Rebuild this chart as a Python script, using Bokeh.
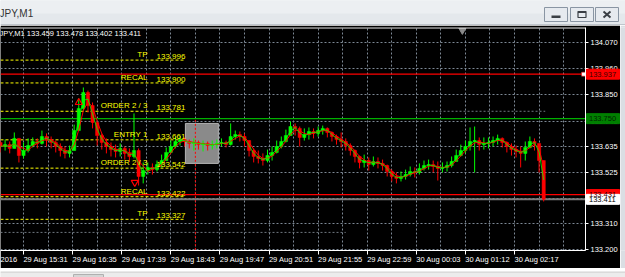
import numpy as np
import pandas as pd
from bokeh.plotting import figure
from bokeh.models import (Range1d, LinearAxis, FixedTicker, Grid, Label, Span,
                          PrintfTickFormatter)
from bokeh.layouts import column, row
from bokeh.core.properties import value
from bokeh.embed import file_html
from bokeh.resources import INLINE

# ---------------- data ----------------
symbol = "JPY,M1"
info_line = "JPY,M1  133.459 133.478 133.402 133.411"

# 6-minute candles, starting 29 Aug ~15:01 (bar index -30 relative to 15:31)
close = [133.633, 133.641, 133.625, 133.667, 133.595, 133.616, 133.637, 133.654, 133.646, 133.675,
         133.662, 133.650, 133.633, 133.616, 133.604, 133.616, 133.700, 133.793, 133.860, 133.805,
         133.734, 133.679, 133.650, 133.633, 133.620, 133.612, 133.625, 133.604, 133.591, 133.616,
         133.507, 133.532, 133.545, 133.536, 133.557, 133.574, 133.608, 133.633, 133.654, 133.662,
         133.654, 133.646, 133.650, 133.641, 133.646, 133.637, 133.641, 133.646, 133.650, 133.641,
         133.675, 133.683, 133.675, 133.658, 133.616, 133.591, 133.583, 133.574, 133.595, 133.608,
         133.633, 133.654, 133.679, 133.717, 133.709, 133.671, 133.683, 133.696, 133.688, 133.700,
         133.709, 133.692, 133.675, 133.662, 133.654, 133.637, 133.616, 133.591, 133.566, 133.574,
         133.557, 133.570, 133.562, 133.553, 133.528, 133.507, 133.499, 133.507, 133.515, 133.528,
         133.524, 133.541, 133.553, 133.557, 133.549, 133.541, 133.545, 133.553, 133.570, 133.595,
         133.616, 133.633, 133.654, 133.658, 133.641, 133.646, 133.650, 133.658, 133.667, 133.650,
         133.633, 133.620, 133.612, 133.604, 133.629, 133.654, 133.646, 133.574, 133.411]
high = [133.658, 133.662, 133.654, 133.692, 133.646, 133.650, 133.667, 133.671, 133.667, 133.700,
        133.688, 133.675, 133.658, 133.646, 133.633, 133.637, 133.725, 133.835, 133.881, 133.868,
        133.818, 133.721, 133.688, 133.667, 133.650, 133.641, 133.646, 133.633, 133.625, 133.772,
        133.625, 133.566, 133.566, 133.562, 133.574, 133.599, 133.629, 133.658, 133.675, 133.679,
        133.671, 133.662, 133.667, 133.658, 133.658, 133.654, 133.658, 133.662, 133.667, 133.658,
        133.730, 133.700, 133.696, 133.688, 133.658, 133.625, 133.616, 133.604, 133.620, 133.633,
        133.658, 133.675, 133.704, 133.738, 133.730, 133.717, 133.709, 133.713, 133.709, 133.717,
        133.721, 133.713, 133.696, 133.683, 133.692, 133.667, 133.646, 133.620, 133.595, 133.599,
        133.587, 133.591, 133.587, 133.578, 133.557, 133.536, 133.524, 133.528, 133.536, 133.549,
        133.545, 133.562, 133.574, 133.578, 133.574, 133.570, 133.566, 133.570, 133.591, 133.620,
        133.641, 133.658, 133.713, 133.717, 133.671, 133.671, 133.671, 133.675, 133.683, 133.671,
        133.654, 133.646, 133.637, 133.633, 133.654, 133.675, 133.667, 133.637, 133.541]
low = [133.608, 133.616, 133.604, 133.629, 133.566, 133.583, 133.608, 133.629, 133.625, 133.641,
       133.633, 133.625, 133.608, 133.591, 133.583, 133.587, 133.625, 133.721, 133.784, 133.776,
       133.709, 133.637, 133.620, 133.604, 133.591, 133.587, 133.591, 133.578, 133.570, 133.583,
       133.469, 133.478, 133.515, 133.515, 133.528, 133.545, 133.574, 133.604, 133.625, 133.637,
       133.633, 133.625, 133.616, 133.620, 133.612, 133.616, 133.620, 133.625, 133.633, 133.629,
       133.637, 133.662, 133.654, 133.633, 133.591, 133.566, 133.562, 133.553, 133.566, 133.574,
       133.604, 133.625, 133.650, 133.688, 133.679, 133.633, 133.658, 133.662, 133.667, 133.675,
       133.683, 133.671, 133.654, 133.641, 133.629, 133.616, 133.595, 133.566, 133.541, 133.545,
       133.532, 133.549, 133.541, 133.532, 133.507, 133.486, 133.478, 133.486, 133.494, 133.507,
       133.503, 133.515, 133.532, 133.536, 133.524, 133.490, 133.524, 133.528, 133.545, 133.574,
       133.591, 133.604, 133.616, 133.524, 133.616, 133.620, 133.625, 133.633, 133.641, 133.629,
       133.608, 133.595, 133.587, 133.545, 133.574, 133.625, 133.616, 133.524, 133.402]
first_open = 133.650
bar_minutes = 6
first_bar = -30

time_tick_bars = [0, 64, 128, 192, 256, 320, 384, 448, 512, 576, 640]
time_tick_labels = ["29 Aug 15:31", "29 Aug 16:35", "29 Aug 17:39", "29 Aug 18:43",
                    "29 Aug 19:47", "29 Aug 20:51", "29 Aug 21:55", "29 Aug 22:59",
                    "30 Aug 00:03", "30 Aug 01:12", "30 Aug 02:17"]
first_date_fragment = "2016"
price_ticks = [134.070, 133.960, 133.850, 133.740, 133.635, 133.525, 133.415, 133.310, 133.200]

level_names = ["TP", "RECAL", "ORDER 2 / 3", "ENTRY 1", "ORDER 2 / 3", "RECAL", "TP"]
level_prices = [133.996, 133.900, 133.781, 133.661, 133.542, 133.422, 133.327]

red_line_prices = [133.937, 133.431]
green_line_price = 133.750
bid_price = 133.411

tag_prices = [133.937, 133.750, 133.431, 133.411]
tag_fill = ["#ff0000", "#008000", "#ff0000", "#ffffff"]
tag_text_color = ["#3a0000", "#002600", "#3a0000", "#000000"]

box_time = [211, 254]
box_price = [133.562, 133.730]
vline_time = 224
vline_top = 133.745
arrow_up = (72, 133.818)
arrow_down = (145, 133.482)
gray_trend = [(-30, 420, 133.272), (511, 680, 133.781)]
shift_marker_time = 572

# ---------------- layout constants ----------------
X_START, X_END = -30, 732.5
Y_BOTTOM, Y_TOP = 133.196, 134.133
LEVEL_END = 211
NAME_RIGHT = 161.6
LABEL_SHIFT = 29
FIRST_FRAGMENT_AT = -21
FONT = value("Liberation Sans")
GRID = "#7d8895"
YEL = "#ffff00"

bars = first_bar + bar_minutes * np.arange(len(close))
c = np.array(close)
o = np.concatenate([[first_open], c[:-1]])
h = np.maximum(np.array(high), np.maximum(o, c))
l = np.minimum(np.array(low), np.minimum(o, c))
up = c >= o
cols = np.where(up, "#00ff00", "#ff0000")

ma_fast = pd.Series(c).rolling(2, min_periods=1).mean().values
ma_slow = pd.Series(c).rolling(3, min_periods=1).mean().values

# ---------------- main chart ----------------
p = figure(width=620, height=243, x_range=Range1d(X_START, X_END), y_range=Range1d(Y_BOTTOM, Y_TOP),
           output_backend="svg", toolbar_location=None, x_axis_location=None, y_axis_location="right",
           min_border_left=0, min_border_right=35, min_border_top=2, min_border_bottom=18)
p.background_fill_color = "black"
p.border_fill_color = "black"
p.outline_line_color = None
p.grid.visible = False

ya = p.yaxis[0]
ya.ticker = FixedTicker(ticks=price_ticks)
ya.formatter = PrintfTickFormatter(format="%.3f")
ya.axis_line_color = "white"
ya.major_tick_line_color = "white"
ya.major_tick_out = 3
ya.major_tick_in = 0
ya.minor_tick_line_color = None
ya.major_label_text_color = "white"
ya.major_label_text_font = "Liberation Sans"
ya.major_label_text_font_size = "7.5px"
ya.major_label_standoff = 2

p.add_layout(Grid(dimension=1, ticker=FixedTicker(ticks=price_ticks),
                  grid_line_color=GRID, grid_line_dash="2 2"))
p.add_layout(Grid(dimension=0, ticker=FixedTicker(ticks=list(range(0, 705, 32))),
                  grid_line_color=GRID, grid_line_dash="2 2"))

ax_marks = LinearAxis(ticker=FixedTicker(ticks=time_tick_bars), axis_line_color="white",
                      major_tick_line_color="white", major_tick_out=4, major_tick_in=0,
                      minor_tick_line_color=None, major_label_text_font_size="1px",
                      major_label_text_alpha=0, major_label_standoff=0)
shifted = [b + LABEL_SHIFT for b in time_tick_bars]
label_ticks = [FIRST_FRAGMENT_AT] + shifted
label_texts = [first_date_fragment] + time_tick_labels
ax_labels = LinearAxis(ticker=FixedTicker(ticks=label_ticks),
                       major_label_overrides={t: s for t, s in zip(label_ticks, label_texts)},
                       axis_line_color=None, major_tick_line_color=None, major_tick_out=0,
                       major_tick_in=0, minor_tick_line_color=None, major_label_standoff=0,
                       major_label_text_color="white", major_label_text_font="Liberation Sans",
                       major_label_text_font_size="7.5px")
p.add_layout(ax_marks, "below")
p.add_layout(ax_labels, "below")

# top frame line
p.add_layout(Span(location=Y_TOP - 0.002, dimension="width", line_color="white", line_width=1))

# gray rectangle object
p.quad(left=[box_time[0]], right=[box_time[1]], bottom=[box_price[0]], top=[box_price[1]],
       fill_color="#8a8a8a", line_color="#b4b4b4", line_width=1)

# red dotted vertical
p.segment(x0=[vline_time], y0=[vline_top], x1=[vline_time], y1=[Y_BOTTOM],
          line_color="#ff0000", line_dash="2 2", line_width=1)

# gray dotted trend lines
for x0, x1, yv in gray_trend:
    p.segment(x0=[x0], y0=[yv], x1=[x1], y1=[yv], line_color="#6f7780", line_dash="2 2")

# yellow dashed level lines
n = len(level_prices)
p.segment(x0=[X_START] * n, y0=level_prices, x1=[LEVEL_END] * n, y1=level_prices,
          line_color=YEL, line_dash="3 2", line_width=1)

# solid horizontal lines
p.segment(x0=[X_START] * 2, y0=red_line_prices, x1=[X_END] * 2, y1=red_line_prices,
          line_color="#ff0000", line_width=1.3)
p.segment(x0=[X_START], y0=[green_line_price], x1=[X_END], y1=[green_line_price],
          line_color="#00b000", line_width=1.2)
p.segment(x0=[X_START], y0=[bid_price], x1=[X_END], y1=[bid_price],
          line_color="#7a7a7a", line_width=2)

# candles
p.segment(x0=bars, y0=l, x1=bars, y1=h, line_color=list(cols), line_width=1)
p.vbar(x=bars, width=4.2, top=np.maximum(o, c), bottom=np.minimum(o, c),
       fill_color=list(cols), line_color=list(cols), line_width=0.5)

# moving averages
p.line(bars, ma_slow, line_color="#ff0000", line_width=1)
p.line(bars, ma_fast, line_color="#00ff00", line_width=0.8)

# arrows
p.scatter([arrow_up[0]], [arrow_up[1]], marker="triangle", size=7, fill_color=None,
          line_color="#ff0000", line_width=1.2)
p.scatter([arrow_down[0]], [arrow_down[1]], marker="inverted_triangle", size=7, fill_color=None,
          line_color="#ff0000", line_width=1.2)

# selection handle & chart shift marker
p.scatter([X_END - 2.5], [red_line_prices[0]], marker="square", size=4, fill_color="white",
          line_color="#ff0000", line_width=0.5)
p.scatter([shift_marker_time], [Y_TOP - 0.012], marker="inverted_triangle", size=7,
          fill_color="#8a8a8a", line_color="#8a8a8a")

# level labels
p.text(x=[NAME_RIGHT] * n, y=level_prices, text=level_names, text_align="right",
       text_baseline="bottom", y_offset=-1, text_color=YEL, text_font=FONT, text_font_size="8px")
p.text(x=[LEVEL_END] * n, y=level_prices, text=[f"{v:.3f}" for v in level_prices],
       text_align="right", text_baseline="bottom", y_offset=-1, text_color=YEL,
       text_font=FONT, text_font_size="8px")

# info line
p.add_layout(Label(x=X_START, y=134.108, text=info_line, text_baseline="middle",
                   text_color="white", text_font="Liberation Sans", text_font_size="7.5px",
                   x_offset=-1))

# ---------------- price tags: transparent strip laid over the price axis ----------------
tg = figure(width=35, height=243, x_range=Range1d(0, 35), y_range=p.y_range,
            output_backend="svg", toolbar_location=None, x_axis_location=None,
            y_axis_location=None, min_border_left=0, min_border_right=0,
            min_border_top=2, min_border_bottom=18, margin=(0, 0, 0, -35))
tg.grid.visible = False
tg.outline_line_color = None
tg.background_fill_alpha = 0
tg.border_fill_alpha = 0
tg.rect(x=[17.5] * 4, y=tag_prices, width=33, height=10, width_units="screen",
        height_units="screen", fill_color=tag_fill, line_color=tag_fill)
tg.text(x=[3.5] * 4, y=tag_prices, text=[f"{v:.3f}" for v in tag_prices], text_baseline="middle",
        text_color=tag_text_color, text_font=FONT, text_font_size="7.5px")

# ---------------- window title bar ----------------
tb = figure(width=625, height=25, x_range=Range1d(0, 625), y_range=Range1d(0, 25),
            output_backend="svg", toolbar_location=None, min_border=0,
            x_axis_location=None, y_axis_location=None)
tb.grid.visible = False
tb.outline_line_color = None
tb.background_fill_color = "#e4e8ec"
tb.border_fill_color = "#e4e8ec"
tb.quad(left=[0], right=[625], bottom=[12], top=[25], fill_color="#eceff2", line_color=None)
tb.quad(left=[0], right=[625], bottom=[0], top=[1], fill_color="#9aa2ab", line_color=None)
tb.quad(left=[544, 570, 595], right=[567, 593, 618], bottom=[4, 4, 4], top=[18, 18, 18],
        fill_color="#e6eaef", line_color="#8995a3", line_width=1)
tb.quad(left=[551], right=[560], bottom=[7.5], top=[10], fill_color="#3a3f45", line_color=None)
tb.quad(left=[577.5], right=[585.5], bottom=[8], top=[14], fill_color=None, line_color="#3a3f45",
        line_width=1.2)
tb.quad(left=[577.5], right=[585.5], bottom=[12.5], top=[14], fill_color="#3a3f45", line_color=None)
tb.segment(x0=[603, 603], y0=[8, 14], x1=[610, 610], y1=[14, 8], line_color="#3a3f45", line_width=2)
tb.text(x=[-1], y=[12.5], text=[symbol], text_baseline="middle", text_color="#333333",
        text_font=FONT, text_font_size="10px")

# ---------------- right window edge ----------------
side = figure(width=5, height=243, x_range=Range1d(0, 5), y_range=Range1d(0, 243),
              output_backend="svg", toolbar_location=None, min_border=0,
              x_axis_location=None, y_axis_location=None)
side.grid.visible = False
side.outline_line_color = None
side.background_fill_color = "#dadee3"
side.border_fill_color = "#dadee3"

# ---------------- bottom strip ----------------
bt = figure(width=625, height=9, x_range=Range1d(0, 625), y_range=Range1d(0, 9),
            output_backend="svg", toolbar_location=None, min_border=0,
            x_axis_location=None, y_axis_location=None)
bt.grid.visible = False
bt.outline_line_color = None
bt.background_fill_color = "#ececec"
bt.border_fill_color = "#ececec"
bt.quad(left=[73], right=[103], bottom=[0], top=[6], fill_color="#d6d6d6", line_color="#b0b0b0")
bt.quad(left=[0], right=[625], bottom=[8], top=[9], fill_color="#c8c8c8", line_color=None)

layout = column(tb, row(p, tg, side), bt)
open("out.html", "w").write(file_html(layout, INLINE))
